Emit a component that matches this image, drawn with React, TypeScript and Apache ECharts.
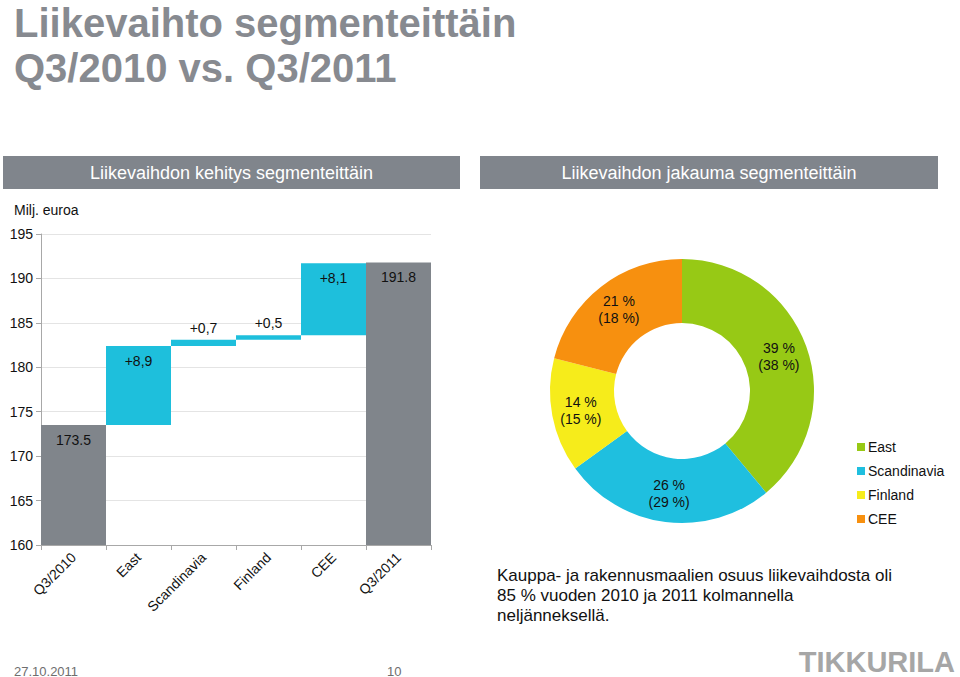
import React, { useEffect, useRef } from "react";
import * as echarts from "echarts";

// ---- Data ----
const categories = ["Q3/2010", "East", "Scandinavia", "Finland", "CEE", "Q3/2011"];
const startTotal = 173.5;
const segmentChanges = [8.9, 0.7, 0.5, 8.1];
const endTotal = 191.8;
const changeLabelPositions = ["insideTop", "top", "top", "insideTop"];
const yMin = 160;
const yMax = 195;
const yInterval = 5;

const segments = ["East", "Scandinavia", "Finland", "CEE"];
const share2011 = [39, 26, 14, 21];
const share2010 = [38, 29, 15, 18];

const titleLines = ["Liikevaihto segmenteittäin", "Q3/2010 vs. Q3/2011"];
const bottomText = [
  "Kauppa- ja rakennusmaalien osuus liikevaihdosta oli",
  "85 % vuoden 2010 ja 2011 kolmannella",
  "neljänneksellä.",
];

const GRAY = "#80858b";
const CYAN = "#1ebfdc";
const segColors = ["#97c915", "#1fbfdf", "#f6ec1b", "#f7900f"];
const FONT = "'Liberation Sans', Arial, sans-serif";

export default function App() {
  const ref = useRef<HTMLDivElement>(null);

  useEffect(() => {
    if (!ref.current) return;
    const chart = echarts.init(ref.current, null, { renderer: "svg" });

    // waterfall bases
    const bases: number[] = [0];
    const visible: any[] = [];
    visible.push({
      value: startTotal,
      itemStyle: { color: GRAY },
      label: { show: true, position: "insideTop", distance: 8, formatter: startTotal.toFixed(1) },
    });
    let run = startTotal;
    segmentChanges.forEach((d, i) => {
      bases.push(run);
      visible.push({
        value: d,
        itemStyle: { color: CYAN },
        label: {
          show: true,
          position: changeLabelPositions[i],
          distance: changeLabelPositions[i] === "top" ? 5 : 8,
          formatter: "+" + d.toFixed(1).replace(".", ","),
        },
      });
      run += d;
    });
    bases.push(0);
    visible.push({
      value: endTotal,
      itemStyle: { color: GRAY },
      label: { show: true, position: "insideTop", distance: 8, formatter: endTotal.toFixed(1) },
    });

    const option: any = {
      animation: false,
      textStyle: { fontFamily: FONT },
      grid: { left: 41, top: 234, width: 390, height: 311, containLabel: false },
      xAxis: {
        type: "category",
        data: categories,
        axisLine: { lineStyle: { color: "#a8a8a8", width: 1 } },
        axisTick: { show: true, length: 5, lineStyle: { color: "#a8a8a8" } },
        axisLabel: {
          rotate: 45,
          margin: 10,
          fontSize: 14,
          color: "#111",
          fontFamily: FONT,
          interval: 0,
        },
      },
      yAxis: {
        type: "value",
        min: yMin,
        max: yMax,
        interval: yInterval,
        axisLine: { show: true, lineStyle: { color: "#a8a8a8" } },
        axisTick: { show: true, length: 5, lineStyle: { color: "#a8a8a8" } },
        axisLabel: { fontSize: 14, color: "#111", margin: 8, fontFamily: FONT },
        splitLine: { show: true, lineStyle: { color: "#e4e4e4" } },
      },
      legend: {
        orient: "vertical",
        left: 852,
        top: 435,
        data: segments,
        icon: "rect",
        itemWidth: 8,
        itemHeight: 8,
        itemGap: 10,
        textStyle: { fontSize: 14, color: "#111", fontFamily: FONT, lineHeight: 14, padding: [0, 0, 0, -2] },
      },
      series: [
        {
          type: "bar",
          stack: "wf",
          data: bases,
          itemStyle: { color: "transparent" },
          barCategoryGap: "0%",
          silent: true,
        },
        {
          type: "bar",
          stack: "wf",
          data: visible,
          barCategoryGap: "0%",
          label: { fontSize: 14, color: "#111", fontFamily: FONT },
        },
        {
          type: "pie",
          center: [682, 391],
          radius: [68, 132],
          startAngle: 90,
          clockwise: true,
          avoidLabelOverlap: false,
          itemStyle: { borderWidth: 0 },
          label: {
            show: true,
            position: "inside",
            fontSize: 14,
            lineHeight: 17,
            color: "#111",
            fontFamily: FONT,
            formatter: (p: any) => `${share2011[p.dataIndex]} %\n(${share2010[p.dataIndex]} %)`,
          },
          labelLine: { show: false },
          data: segments.map((s, i) => ({
            name: s,
            value: share2011[i],
            itemStyle: { color: segColors[i] },
          })),
        },
      ],
      graphic: [
        {
          type: "text",
          x: 14,
          y: 22.5,
          style: {
            text: titleLines[0],
            font: `bold 40px ${FONT}`,
            lineHeight: 40,
            fill: "#878a90",
            verticalAlign: "middle",
          },
        },
        {
          type: "text",
          x: 14,
          y: 67.5,
          style: {
            text: titleLines[1],
            font: `bold 40px ${FONT}`,
            lineHeight: 40,
            fill: "#878a90",
            verticalAlign: "middle",
          },
        },
        {
          type: "rect",
          shape: { x: 3, y: 156, width: 457, height: 33 },
          style: { fill: "#80858c" },
        },
        {
          type: "text",
          x: 231.5,
          y: 172.5,
          style: {
            text: "Liikevaihdon kehitys segmenteittäin",
            font: `18px ${FONT}`,
            fill: "#ffffff",
            align: "center",
            verticalAlign: "middle",
          },
        },
        {
          type: "rect",
          shape: { x: 480, y: 156, width: 458, height: 33 },
          style: { fill: "#80858c" },
        },
        {
          type: "text",
          x: 709,
          y: 172.5,
          style: {
            text: "Liikevaihdon jakauma segmenteittäin",
            font: `18px ${FONT}`,
            fill: "#ffffff",
            align: "center",
            verticalAlign: "middle",
          },
        },
        {
          type: "text",
          x: 14,
          y: 210,
          style: {
            text: "Milj. euroa",
            font: `14px ${FONT}`,
            fill: "#111",
            verticalAlign: "middle",
          },
        },
        {
          type: "text",
          x: 497,
          y: 565,
          style: {
            text: bottomText.join("\n"),
            font: `17px ${FONT}`,
            fill: "#111",
            lineHeight: 20,
            verticalAlign: "top",
          },
        },
        {
          type: "text",
          x: 14,
          y: 671,
          style: {
            text: "27.10.2011",
            font: `13px ${FONT}`,
            fill: "#6e6e6e",
            verticalAlign: "middle",
          },
        },
        {
          type: "text",
          x: 387,
          y: 671,
          style: {
            text: "10",
            font: `13px ${FONT}`,
            fill: "#6e6e6e",
            verticalAlign: "middle",
          },
        },
        {
          type: "text",
          x: 955,
          y: 662,
          style: {
            text: "TIKKURILA",
            font: `bold 29px ${FONT}`,
            lineHeight: 26,
            fill: "#a6a6a6",
            align: "right",
            verticalAlign: "middle",
          },
        },
      ],
    };

    chart.setOption(option);
    return () => chart.dispose();
  }, []);

  return (
    <div
      ref={ref}
      style={{ position: "fixed", left: 0, top: 0, width: 960, height: 677, background: "#fff" }}
    />
  );
}
